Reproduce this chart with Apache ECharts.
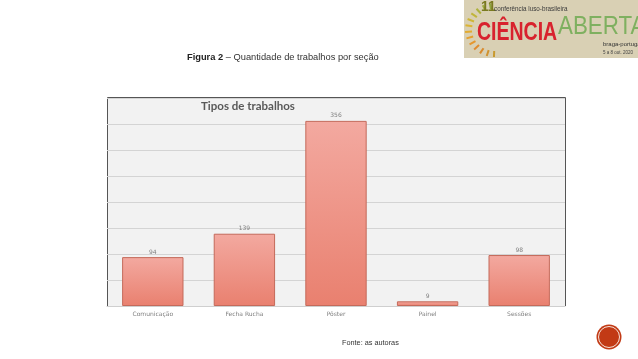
<!DOCTYPE html>
<html>
<head>
<meta charset="utf-8">
<style>
  html, body { margin: 0; padding: 0; background: #fff; }
  #chart { width: 638px; height: 359px; }
</style>
<script src="https://cdn.jsdelivr.net/npm/echarts@6/dist/echarts.min.js"></script>
</head>
<body>
<div id="chart"></div>
<script>
const categories = ["Comunicação", "Fecha Rucha", "Pôster", "Painel", "Sessões"]
const values = [94, 139, 356, 9, 98]
const axisTicks = [0, 50, 100, 150, 200, 250, 300, 350, 400]

const chart = echarts.init(document.getElementById("chart"), null, { renderer: "canvas" })

// sun rays of the logo, top to bottom around the left of CIENCIA
const rayColors = ["#8fa53c", "#9dab3c", "#aeb23b", "#c0b53a", "#cfb636", "#dcb433", "#e2ab30", "#e5a02e", "#e5962d", "#e08a2c", "#d98a2c", "#d0922e", "#c99a30"]
const rays = rayColors.map((color, i) => {
  const a = (100 + i * 14) * Math.PI / 180
  return {
    type: "line",
    shape: {
      x1: 495 + Math.cos(a) * 23,
      y1: 30 - Math.sin(a) * 21,
      x2: 495 + Math.cos(a) * 30,
      y2: 30 - Math.sin(a) * 27
    },
    style: { stroke: color, lineWidth: 2 }
  }
})

const option = {
  animation: false,
  backgroundColor: "#ffffff",
  textStyle: { fontFamily: "Liberation Sans" },
  title: [
    {
      text: "{b|Figura 2} – Quantidade de trabalhos por seção",
      left: 187,
      top: 53,
      padding: 0,
      textStyle: {
        fontSize: 9.3,
        fontWeight: "normal",
        color: "#333",
        rich: {
          b: { fontSize: 9.3, fontWeight: "bold", color: "#222" }
        }
      }
    },
    {
      text: "Tipos de trabalhos",
      left: 201,
      top: 100,
      padding: 0,
      textStyle: { fontFamily: "Lato", fontSize: 11.5, fontWeight: "bold", color: "#595959" }
    },
    {
      text: "Fonte: as autoras",
      left: 342,
      top: 339,
      padding: 0,
      textStyle: { fontSize: 7.3, fontWeight: "normal", color: "#333" }
    }
  ],
  grid: {
    left: 107,
    right: 73,
    top: 98,
    bottom: 53,
    show: true,
    backgroundColor: "#f2f2f2",
    borderWidth: 0
  },
  xAxis: {
    type: "category",
    data: categories,
    axisTick: { show: false },
    axisLine: { lineStyle: { color: "#cfcfcf", width: 1 } },
    axisLabel: { fontFamily: "DejaVu Sans", fontSize: 6, color: "#7f7f7f", margin: 5 }
  },
  yAxis: {
    type: "value",
    min: axisTicks[0],
    max: axisTicks[axisTicks.length - 1],
    interval: axisTicks[1] - axisTicks[0],
    axisLabel: { show: false },
    axisTick: { show: false },
    axisLine: { show: false },
    splitLine: { lineStyle: { color: "#d4d4d4", width: 1 } }
  },
  series: [
    {
      name: "Tipos de trabalhos",
      type: "bar",
      data: values,
      barWidth: "67%",
      itemStyle: {
        color: new echarts.graphic.LinearGradient(0, 0, 0, 1, [
          { offset: 0, color: "#f3a9a0" },
          { offset: 1, color: "#e9806f" }
        ]),
        borderColor: "#c46a5a",
        borderWidth: 1
      },
      label: {
        show: true,
        position: "top",
        distance: 2,
        fontFamily: "DejaVu Sans",
        fontSize: 6,
        color: "#808080"
      }
    }
  ],
  graphic: [
    // plot frame: dark on three sides, the bottom stays the light axis line
    {
      type: "polyline",
      shape: { points: [[107.5, 306], [107.5, 97.5], [565.5, 97.5], [565.5, 306]] },
      style: { stroke: "#555555", lineWidth: 1, fill: "none" }
    },
    // logo top right
    { type: "rect", shape: { x: 464, y: 0, width: 174, height: 58 }, style: { fill: "#d9d0b4" } },
    { type: "group", children: rays },
    { type: "text", x: 481, y: 0, style: { text: "11", font: "bold 14px Liberation Sans", fill: "#7a7a20" } },
    { type: "text", x: 494, y: 6, style: { text: "conferência luso-brasileira", font: "6.3px Liberation Sans", fill: "#3a3a3a" } },
    { type: "text", x: 477, y: 20, scaleX: 0.75, style: { text: "CIÊNCIA", font: "bold 26px Liberation Sans", fill: "#d8222e" } },
    { type: "text", x: 558, y: 14, scaleX: 0.86, style: { text: "ABERTA", font: "26px Liberation Sans", fill: "#7fb060" } },
    { type: "text", x: 603, y: 41, style: { text: "braga-portugal", font: "6px Liberation Sans", fill: "#333" } },
    { type: "text", x: 603, y: 50, style: { text: "5 a 8 out. 2020", font: "4.5px Liberation Sans", fill: "#444" } },
    // page badge bottom right
    { type: "circle", shape: { cx: 609, cy: 337, r: 12.5 }, style: { fill: "#c23a15" } },
    { type: "circle", shape: { cx: 609, cy: 337, r: 10.5 }, style: { fill: "none", stroke: "#f7e3da", lineWidth: 1 } }
  ]
}

chart.setOption(option)
</script>
</body>
</html>
